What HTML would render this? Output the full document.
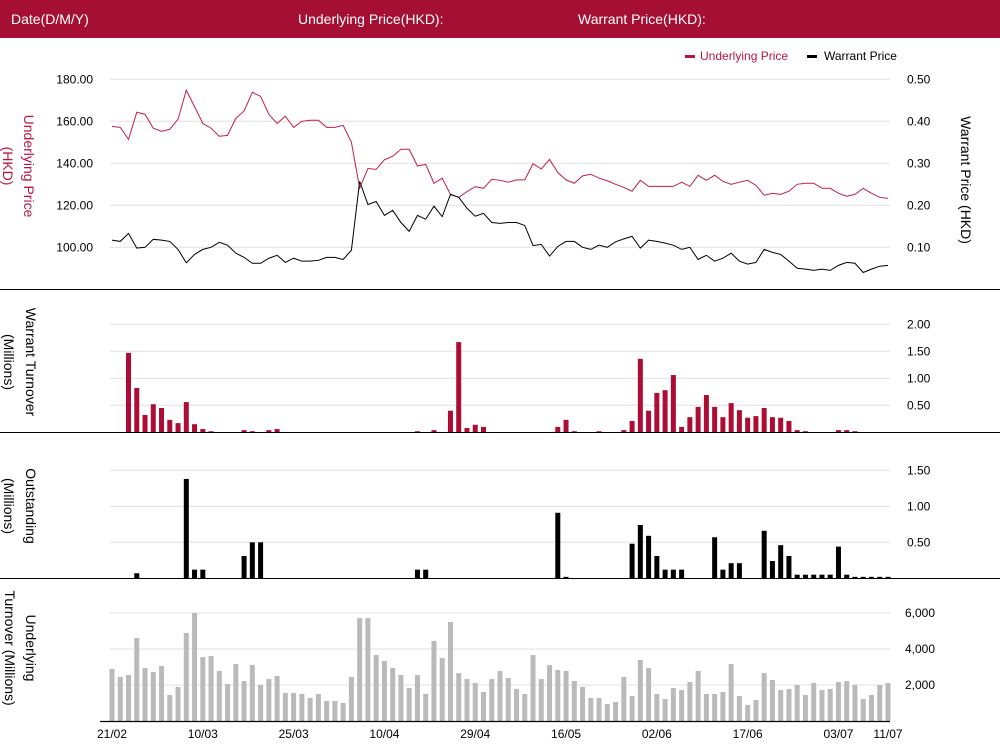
<!DOCTYPE html>
<html><head><meta charset="utf-8">
<style>
html,body{margin:0;padding:0;background:#fff;}
body{width:1000px;height:751px;overflow:hidden;font-family:"Liberation Sans",sans-serif;}
svg text{font-family:"Liberation Sans",sans-serif;}
</style></head>
<body>
<svg id="chart" width="1000" height="751" xmlns="http://www.w3.org/2000/svg">
<rect x="0" y="0" width="1000" height="38" fill="#a50f33"/>
<text x="11" y="24" fill="#fff" font-size="14">Date(D/M/Y)</text>
<text x="298" y="24" fill="#fff" font-size="14">Underlying Price(HKD):</text>
<text x="578" y="24" fill="#fff" font-size="14">Warrant Price(HKD):</text>
<g>
<rect x="685" y="55" width="10" height="3" fill="#b8163f"/>
<text x="700" y="60" fill="#b8163f" font-size="12">Underlying Price</text>
<rect x="807" y="55" width="10" height="3" fill="#000"/>
<text x="824" y="60" fill="#000" font-size="12">Warrant  Price</text>
</g>
<g id="grid"></g>
<g id="marks"></g>
<g id="labels"></g>
<line x1="0" y1="289.5" x2="1000" y2="289.5" stroke="#000" stroke-width="1"/>
<line x1="0" y1="432.5" x2="1000" y2="432.5" stroke="#000" stroke-width="1"/>
<line x1="0" y1="578.5" x2="1000" y2="578.5" stroke="#000" stroke-width="1"/>
<line x1="100" y1="721.5" x2="890" y2="721.5" stroke="#000" stroke-width="1.2"/>
<text transform="translate(24,166) rotate(90)" text-anchor="middle" fill="#b8163f" font-size="14">Underlying Price</text>
<text transform="translate(3,166) rotate(90)" text-anchor="middle" fill="#b8163f" font-size="14">(HKD)</text>
<text transform="translate(961,180) rotate(90)" text-anchor="middle" fill="#000" font-size="14">Warrant  Price (HKD)</text>
<text transform="translate(26,362) rotate(90)" text-anchor="middle" fill="#000" font-size="14">Warrant  Turnover</text>
<text transform="translate(4,362) rotate(90)" text-anchor="middle" fill="#000" font-size="14">(Millions)</text>
<text transform="translate(26,506) rotate(90)" text-anchor="middle" fill="#000" font-size="14">Outstanding</text>
<text transform="translate(4,506) rotate(90)" text-anchor="middle" fill="#000" font-size="14">(Millions)</text>
<text transform="translate(26,648) rotate(90)" text-anchor="middle" fill="#000" font-size="14">Underlying</text>
<text transform="translate(5,648) rotate(90)" text-anchor="middle" fill="#000" font-size="14">Turnover (Millions)</text>
</svg>
<script>
const underlyingPrice=[157.6,157.1,151.4,164.3,163.3,156.7,155.2,156.2,161.0,174.8,167.0,159.0,156.7,152.9,153.3,161.4,164.9,173.8,171.9,163.3,159.0,162.4,157.1,160.0,160.5,160.5,157.1,157.1,158.1,150.0,128.1,137.5,137.1,141.7,143.3,146.7,146.7,138.7,139.5,130.5,132.9,125.2,123.8,126.5,128.9,128.1,132.4,131.9,131.0,132.1,132.1,139.8,137.3,141.9,135.6,132.1,130.5,134.0,134.8,132.9,131.7,130.0,128.5,126.7,131.9,129.0,129.0,129.0,129.0,131.0,129.0,134.3,131.9,134.3,131.4,130.0,131.0,131.9,129.5,124.8,125.7,125.2,126.7,130.0,130.5,130.5,128.1,128.1,125.7,124.3,125.2,128.1,125.7,123.8,123.3];
const warrantPrice=[0.117,0.114,0.133,0.098,0.100,0.119,0.117,0.114,0.095,0.063,0.083,0.095,0.100,0.112,0.105,0.086,0.076,0.062,0.062,0.074,0.081,0.064,0.074,0.067,0.067,0.069,0.076,0.076,0.071,0.093,0.257,0.202,0.209,0.176,0.188,0.159,0.138,0.176,0.167,0.198,0.173,0.226,0.219,0.193,0.174,0.181,0.159,0.157,0.159,0.159,0.152,0.104,0.107,0.079,0.102,0.114,0.114,0.100,0.095,0.105,0.100,0.113,0.120,0.126,0.098,0.117,0.114,0.110,0.105,0.095,0.100,0.071,0.081,0.067,0.074,0.086,0.067,0.060,0.064,0.095,0.088,0.083,0.067,0.050,0.048,0.045,0.048,0.045,0.057,0.064,0.062,0.040,0.048,0.055,0.057];
const warrantTurnover=[0,0,1.47,0.82,0.32,0.52,0.45,0.23,0.17,0.56,0.15,0.06,0.02,0,0,0,0.04,0.02,0,0.04,0.06,0,0,0,0,0,0,0,0,0,0,0,0,0,0,0,0,0.02,0,0.04,0,0.40,1.67,0.08,0.14,0.10,0,0,0,0,0,0,0,0,0.10,0.23,0.02,0,0,0.02,0,0,0.04,0.21,1.36,0.40,0.73,0.78,1.06,0.10,0.28,0.47,0.69,0.47,0.28,0.54,0.41,0.27,0.30,0.45,0.28,0.27,0.21,0.04,0.02,0,0,0,0.04,0.04,0.02,0,0,0,0];
const outstanding=[0,0,0,0.07,0,0,0,0,0,1.38,0.12,0.12,0,0,0,0,0.31,0.50,0.50,0,0,0,0,0,0,0,0,0,0,0,0,0,0,0,0,0,0,0.12,0.12,0,0,0,0,0,0,0,0,0,0,0,0,0,0,0,0.91,0.02,0,0,0,0,0,0,0,0.48,0.74,0.59,0.31,0.12,0.12,0.12,0,0,0,0.57,0.12,0.21,0.21,0,0,0.66,0.24,0.46,0.31,0.05,0.05,0.05,0.05,0.05,0.44,0.05,0.02,0.02,0.02,0.02,0.02];
const underlyingTurnover=[2890,2445,2555,4610,2945,2720,3055,1445,1890,4890,6000,3555,3610,2780,2055,3165,2220,3110,2000,2330,2500,1555,1555,1500,1280,1500,1110,1110,1000,2445,5720,5720,3665,3330,2945,2555,1835,2555,1500,4445,3500,5500,2665,2330,2110,1610,2330,2780,2390,1780,1500,3665,2330,3110,2835,2780,2220,1890,1280,1280,945,1055,2445,1390,3390,2945,1500,1220,1835,1720,2165,2780,1500,1500,1610,3165,1390,890,1165,2665,2280,1720,1780,2000,1445,2110,1720,1780,2165,2220,2000,1220,1445,2000,2110];
const dateLabels=["21/02","10/03","25/03","10/04","29/04","16/05","02/06","17/06","03/07","11/07"];
const dateIndex=[0,11,22,33,44,55,66,77,88,94];
const priceTicks=[100,120,140,160,180];
const warrantTicks=[0.1,0.2,0.3,0.4,0.5];
const turnoverTicks=[0.5,1.0,1.5,2.0];
const outstandingTicks=[0.5,1.0,1.5];
const ulTurnoverTicks=[2000,4000,6000];

const NS="http://www.w3.org/2000/svg";
const grid=document.getElementById('grid'),marks=document.getElementById('marks'),labels=document.getElementById('labels');
const X0=112,X1=888;
const n=underlyingPrice.length;
function xScale(i){return X0+(X1-X0)*i/(n-1);}
function lin(d0,d1,r0,r1){return v=>r0+(v-d0)*(r1-r0)/(d1-d0);}
const yPrice=lin(100,180,247.3,79.3);
const yWarrant=lin(0.1,0.5,247.3,79.3);
const yTurn=lin(0,2,432.3,324.3);
const yOut=lin(0,1.5,578.3,470.3);
const yUl=lin(0,6000,721,613);
function mk(tag,attrs,parent){const e=document.createElementNS(NS,tag);for(const k in attrs)e.setAttribute(k,attrs[k]);parent.appendChild(e);return e;}
function gridLine(y,parent){
  const l=mk('line',{x1:110,x2:890,y1:y,y2:y,stroke:'#e0e0e0','stroke-width':1},parent);
  
  
}
function tickText(x,y,txt,anchor,name){
  const t=mk('text',{x:x,y:y+4,'font-size':12,fill:'#000','text-anchor':anchor},labels);
  t.textContent=txt;
  
  
}
priceTicks.forEach(v=>{gridLine(yPrice(v),grid);tickText(93,yPrice(v),v.toFixed(2),'end','y-tick-price');});
warrantTicks.forEach(v=>{tickText(907,yWarrant(v),v.toFixed(2),'start','y-tick-warrant');});
turnoverTicks.forEach(v=>{gridLine(yTurn(v),grid);tickText(907,yTurn(v),v.toFixed(2),'start','y-tick-warrant-turnover');});
outstandingTicks.forEach(v=>{gridLine(yOut(v),grid);tickText(907,yOut(v),v.toFixed(2),'start','y-tick-outstanding');});
ulTurnoverTicks.forEach(v=>{gridLine(yUl(v),grid);tickText(905,yUl(v),v.toLocaleString('en-US'),'start','y-tick-underlying-turnover');});
dateLabels.forEach((d,k)=>{
  const t=mk('text',{x:xScale(dateIndex[k]),y:738,'font-size':12,fill:'#000','text-anchor':'middle'},labels);
  t.textContent=d;
  
  
});
function line(arr,ys,color,name){
  const d=arr.map((v,i)=>(i?'L':'M')+xScale(i).toFixed(2)+','+ys(v).toFixed(2)).join('');
  const p=mk('path',{d:d,fill:'none',stroke:color,'stroke-width':1},marks);
  
  
}
line(underlyingPrice,yPrice,'#c21e47','underlying-price-line');
line(warrantPrice,yWarrant,'#000','warrant-price-line');
function bars(arr,ys,base,color,name){
  arr.forEach((v,i)=>{
    if(v<=0)return;
    const y=ys(v);
    const r=mk('rect',{x:(xScale(i)-2.5).toFixed(2),y:y.toFixed(2),width:5,height:(base-y).toFixed(2),fill:color},marks);
    
    
  });
}
bars(warrantTurnover,yTurn,432.3,'#ad0c35','warrant-turnover-bar');
bars(outstanding,yOut,578.3,'#000','outstanding-bar');
bars(underlyingTurnover,yUl,721,'#bababa','underlying-turnover-bar');
</script>
</body></html>
